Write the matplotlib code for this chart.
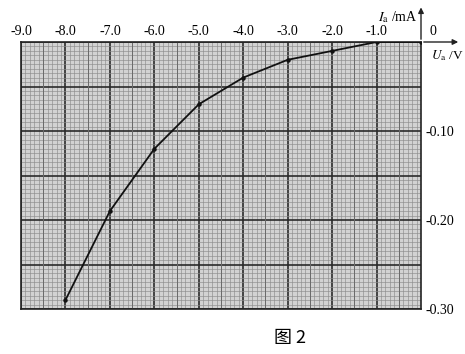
import numpy as np
import matplotlib.pyplot as plt
from matplotlib.ticker import MultipleLocator

# measured points (U in V, I in mA)
u_vals = [-8.0, -7.0, -6.0, -5.0, -4.0, -3.0, -2.0, -1.0, 0.0]
i_vals = [-0.29, -0.19, -0.12, -0.07, -0.04, -0.02, -0.01, 0.0, 0.0]
x_ticks = [-9.0, -8.0, -7.0, -6.0, -5.0, -4.0, -3.0, -2.0, -1.0]
y_ticks = [0, -0.05, -0.10, -0.15, -0.20, -0.25, -0.30]
y_labels = ['', '', '-0.10', '', '-0.20', '', '-0.30']

plt.rcParams['font.family'] = ['Liberation Serif', 'DejaVu Serif']
plt.rcParams['mathtext.fontset'] = 'stix'

fig = plt.figure(figsize=(4.65, 3.54), dpi=100)
W, H = 465, 354
x0, x1, ytop, ybot = 21, 421, 42, 309
ax = fig.add_axes([x0 / W, (H - ybot) / H, (x1 - x0) / W, (ybot - ytop) / H])
ax.set_facecolor('#d2d2d2')
ax.set_xlim(-9, 0)
ax.set_ylim(-0.30, 0)

# graph paper
ax.xaxis.set_minor_locator(MultipleLocator(0.1))
ax.yaxis.set_minor_locator(MultipleLocator(0.005))
ax.grid(which='minor', color='#8c8c8c', lw=0.45)
for v in np.arange(-8.5, 0, 1.0):
    ax.axvline(v, color='#6a6a6a', lw=0.7)
ax.grid(which='major', color='#2a2a2a', lw=1.2)
ax.tick_params(which='both', length=0)
ax.tick_params(axis='x', top=True, labeltop=True, bottom=False, labelbottom=False,
               pad=3, labelsize=10)
ax.tick_params(axis='y', right=True, labelright=True, left=False, labelleft=False,
               pad=3, labelsize=10)
ax.set_xticks(x_ticks)
ax.set_xticklabels(['%.1f' % v for v in x_ticks])
ax.set_yticks(y_ticks)
ax.set_yticklabels(y_labels)
for s in ax.spines.values():
    s.set_color('#222222')
    s.set_linewidth(1.2)

ax.plot(u_vals, i_vals, color='#111111', lw=1.3, marker='o', ms=2.2, zorder=5)

# axes arrows
ax.annotate('', xy=(0.9, 0), xytext=(0, 0), annotation_clip=False,
            arrowprops=dict(arrowstyle='-|>', color='#222222', lw=1.0, mutation_scale=8))
ax.annotate('', xy=(0, 0.042), xytext=(0, 0), annotation_clip=False,
            arrowprops=dict(arrowstyle='-|>', color='#222222', lw=1.0, mutation_scale=8))
ax.text(0.2, 0.004, '0', fontsize=10, va='bottom', ha='left', clip_on=False)
ax.text(-0.07, 0.028, r'$I_\mathrm{a}$ /mA', fontsize=10, ha='right', va='center', clip_on=False)
ax.text(0.22, -0.015, r'$U_\mathrm{a}$ /V', fontsize=9.5, ha='left', va='center', clip_on=False)

fig.text(290 / W, 1 - 338 / H, '图 2', fontsize=13, ha='center', va='center',
         family=['Noto Sans CJK SC', 'DejaVu Sans'])

fig.savefig('out.png', dpi=100)
